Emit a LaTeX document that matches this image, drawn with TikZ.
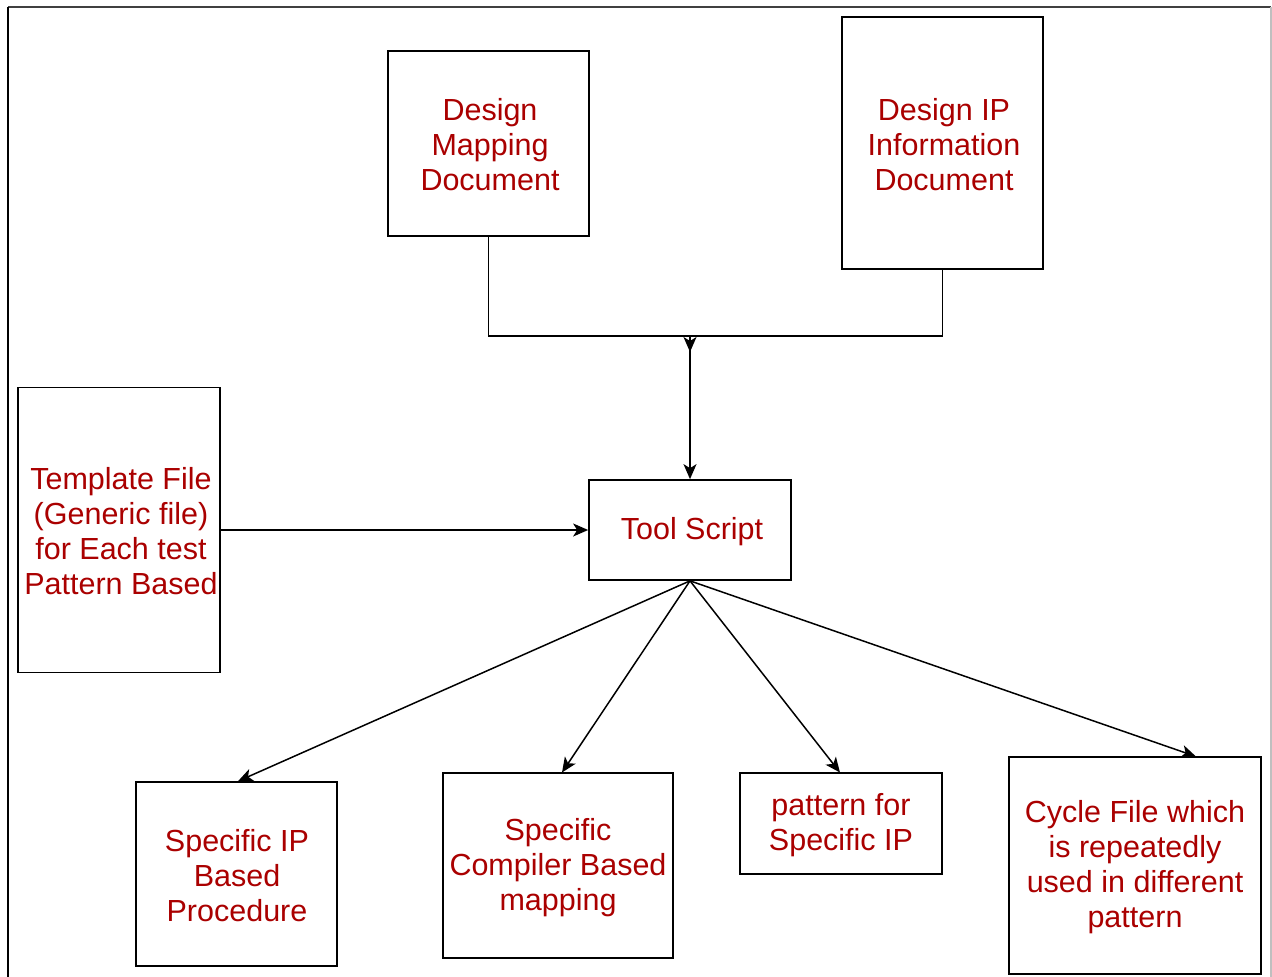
\documentclass[tikz,border=0pt]{standalone}
\usepackage{fontspec}
\setmainfont{Liberation Sans}
\usetikzlibrary{arrows.meta}
\definecolor{txtred}{RGB}{170,0,0}
\tikzset{
  box/.style={draw=black, line width=1.7pt, fill=white, inner sep=0pt},
  lbl/.style={text=txtred, align=center, font=\fontsize{30.5}{35}\selectfont, inner sep=0pt},
  conn/.style={draw=black, line width=1.5pt},
  arr/.style={conn, -{Stealth[length=15pt,width=13pt,inset=4pt]}}
}
\begin{document}
\begin{tikzpicture}[x=1pt,y=-1pt]
\useasboundingbox (0,0) rectangle (1272,977);
% outer frame
\draw[line width=1.6pt, black!75] (8,7) -- (1271,7);
\draw[line width=1.6pt, black] (8,7) -- (8,977);
\draw[line width=1.2pt, black!25] (1271,7) -- (1271,977);

% boxes
\node[box, minimum width=201pt, minimum height=185pt] (dmd) at (488.5,143.5) {};
\node[lbl] at (490,145) {Design\\Mapping\\Document};

\node[box, minimum width=201pt, minimum height=252pt] (dip) at (942.5,143) {};
\node[lbl] at (944,145) {Design IP\\Information\\Document};

\node[box, minimum width=202pt, minimum height=285pt] (tpl) at (119,530) {};
\node[lbl] at (121,531) {Template File\\(Generic file)\\for Each test\\Pattern Based};

\node[box, minimum width=202pt, minimum height=100pt] (tool) at (690,530) {};
\node[lbl] at (692,532) {Tool Script};

\node[box, minimum width=201pt, minimum height=184pt] (sip) at (236.5,874) {};
\node[lbl] at (237,876) {Specific IP\\Based\\Procedure};

\node[box, minimum width=230pt, minimum height=185pt] (comp) at (558,865.5) {};
\node[lbl] at (558,868) {Specific\\Compiler Based\\mapping};

\node[box, minimum width=202pt, minimum height=101pt] (pat) at (841,823.5) {};
\node[lbl] at (841,825.5) {pattern for\\Specific IP};

\node[box, minimum width=252pt, minimum height=217pt] (cyc) at (1135,865.5) {};
\node[lbl] at (1135,867.5) {Cycle File which\\is repeatedly\\used in different\\pattern};

% merge of the two input documents
\coordinate (join) at (690,336);
\draw[conn] (dmd.south) |- (join);
\draw[conn] (dip.south) |- (join);
\draw[arr] (join) -- ++(0,16);
\draw[arr] (join) -- (tool.north);

% template into the tool script
\draw[arr] (tpl.east) -- (tool.west);

% outputs of the tool script
\draw[arr] (tool.south) -- (238,781.2);
\draw[arr] (tool.south) -- (562,772.5);
\draw[arr] (tool.south) -- (840,772.5);
\draw[arr] (tool.south) -- (1196,756.5);
\end{tikzpicture}
\end{document}
